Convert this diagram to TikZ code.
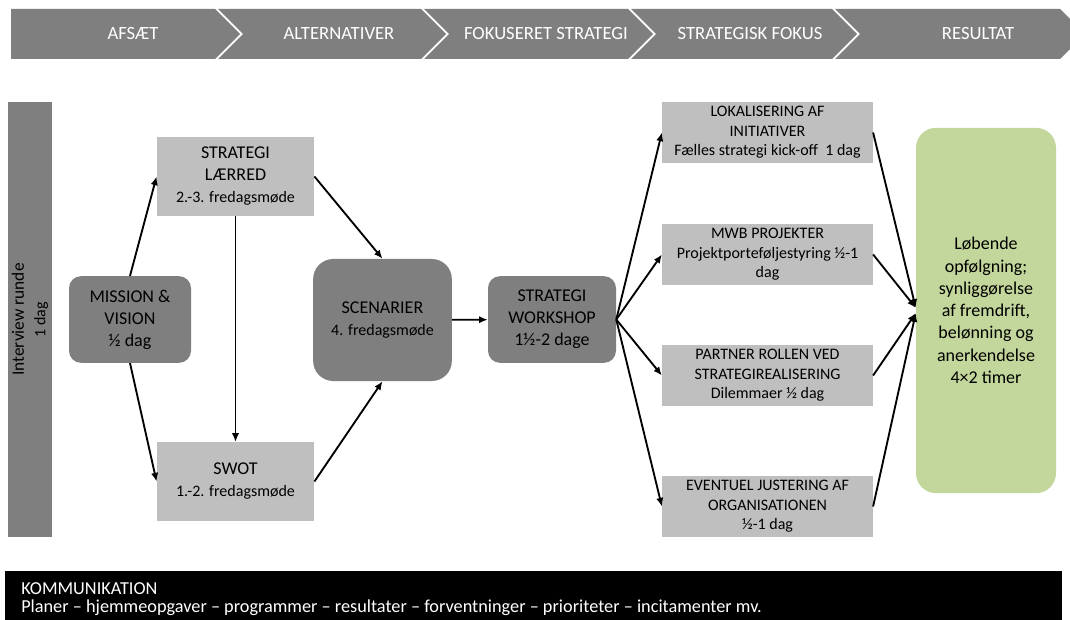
\documentclass[tikz,border=0pt]{standalone}
\usepackage{fontspec}
\setmainfont{Carlito}
\usetikzlibrary{arrows.meta}
\definecolor{boxdark}{HTML}{7F7F7F}
\definecolor{boxlight}{HTML}{BFBFBF}
\definecolor{boxgreen}{HTML}{C3D69B}
\newcommand{\sub}[1]{{\fontsize{12}{14.5}\selectfont #1}}

\begin{document}
\begin{tikzpicture}[x=0.75pt,y=-0.75pt,
    dark/.style={fill=boxdark,rounded corners=9pt,align=center,inner sep=0pt,
      font=\fontsize{13.5}{16.5}\selectfont},
    light/.style={fill=boxlight,align=center,inner sep=0pt,
      font=\fontsize{13.5}{16.5}\selectfont},
    task/.style={fill=boxlight,align=center,inner sep=0pt,
      minimum width=158pt,minimum height=46pt,font=\fontsize{12}{14.6}\selectfont},
    band/.style={text=white,font=\fontsize{14}{16}\selectfont},
    flow/.style={-{Latex[length=6.5pt,width=5.5pt]},line width=1.4pt}]
\useasboundingbox (0,0) rectangle (1070,620);
\clip (0,0) rectangle (1070,620);

% phase band
\fill[boxdark] (11,9) -- (215,9) -- (240,34) -- (215,59) -- (11,59) -- cycle;
\node[band] (afsaet) at (133,34) {AFSÆT};
\foreach \prev/\tip/\name/\lab in {240/446/alternativer/ALTERNATIVER,
    446/653/fokuseret/FOKUSERET STRATEGI, 653/857/fokus/STRATEGISK FOKUS,
    857/1085/resultat/RESULTAT}{
  \fill[boxdark] (\prev-22,9) -- (\tip-25,9) -- (\tip,34) -- (\tip-25,59)
    -- (\prev-22,59) -- (\prev+3,34) -- cycle;
  \node[band] (\name) at (\tip-107,34) {\lab};
}

% interview bar
\node[fill=boxdark,minimum width=33pt,minimum height=326pt,inner sep=0pt] (interview) at (30,319.5) {};
\node[rotate=90,align=center,font=\fontsize{13}{16}\selectfont] at (interview) {Interview runde\\\sub{1 dag}};

% boxes
\node[dark,minimum width=91.5pt,minimum height=65pt] (mission) at (130,319.5) {MISSION \&\\VISION\\½ dag};
\node[light,minimum width=118pt,minimum height=59pt] (laerred) at (235.5,176.5) {STRATEGI\\LÆRRED\\\sub{2.-3. fredagsmøde}};
\node[light,minimum width=118pt,minimum height=59pt] (swot) at (235.5,481.5) {SWOT\\\sub{1.-2. fredagsmøde}};
\node[dark,rounded corners=15pt,minimum width=104pt,minimum height=91.5pt] (scenarier) at (382.5,320) {SCENARIER\\\sub{4. fredagsmøde}};
\node[dark,minimum width=96pt,minimum height=65pt] (workshop) at (552,319.5) {STRATEGI\\WORKSHOP\\1½-2 dage};

\node[task] (lokal) at (767.5,132.5) {LOKALISERING AF\\INITIATIVER\\Fælles strategi kick-off\ \ 1 dag};
\node[task] (mwb) at (767.5,254.5) {MWB PROJEKTER\\Projektporteføljestyring\ ½-1\\dag};
\node[task] (partner) at (767.5,375.5) {PARTNER ROLLEN VED\\STRATEGIREALISERING\\Dilemmaer ½ dag};
\node[task] (justering) at (767.5,506.5) {EVENTUEL JUSTERING AF\\ORGANISATIONEN\\½-1 dag};

\node[fill=boxgreen,rounded corners=15pt,minimum width=105pt,minimum height=274pt,
  align=center,inner sep=0pt,font=\fontsize{13.5}{16.7}\selectfont] (opfoelgning) at (986,310.5)
  {Løbende\\opfølgning;\\synliggørelse\\af fremdrift,\\belønning og\\anerkendelse\\4×2 timer};

% arrows
\draw[flow] (mission.north) -- (laerred.west);
\draw[flow] (mission.south) -- (swot.west);
\draw[flow] (laerred.south) -- (swot.north);
\draw[flow] (laerred.east) -- (scenarier.north);
\draw[flow] (swot.east) -- (scenarier.south);
\draw[flow] (scenarier) -- (workshop);
\foreach \t in {lokal,mwb,partner,justering}
  \draw[flow] (workshop.east) -- (\t.west);
\draw[flow] (lokal.east) -- ([yshift=2pt]opfoelgning.west);
\draw[flow] (mwb.east) -- ([yshift=2pt]opfoelgning.west);
\draw[flow] (partner.east) -- ([yshift=-2pt]opfoelgning.west);
\draw[flow] (justering.east) -- ([yshift=-2pt]opfoelgning.west);

% communication bar
\fill[black] (5,571) rectangle (1062,625);
\node[anchor=north west,align=left,inner sep=0pt,text=white,
  font=\fontsize{13.7}{13.5}\selectfont] (kommunikation) at (21,582)
  {KOMMUNIKATION\\Planer – hjemmeopgaver – programmer – resultater – forventninger – prioriteter – incitamenter mv.};
\end{tikzpicture}
\end{document}
